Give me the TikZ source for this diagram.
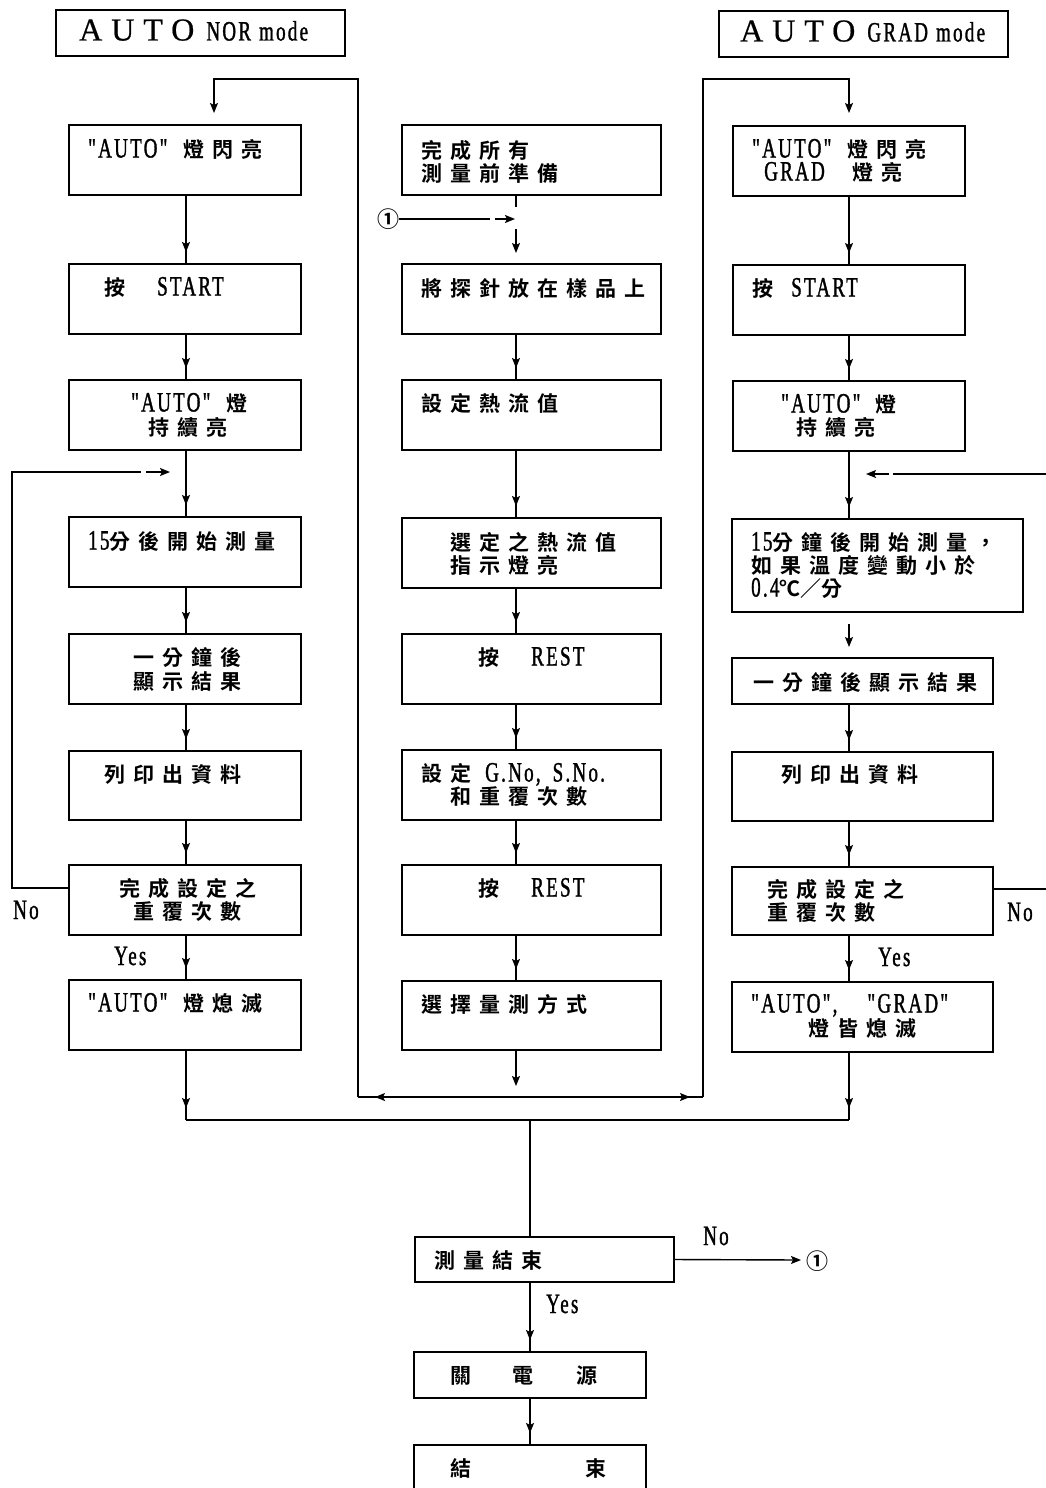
\documentclass[tikz,border=0pt]{standalone}
\usepackage{fontspec}
\usetikzlibrary{arrows.meta,decorations.markings}
\newfontfamily\cjkf{Noto Sans CJK TC}[UprightFont=* Bold, LetterSpace=38]
\newfontfamily\cjkn{Noto Sans CJK TC}[UprightFont=* Bold]
\newfontfamily\latf{Liberation Serif}[Ligatures=TeXOff, FakeStretch=0.68, LetterSpace=8, FakeBold=1.2]
\newfontfamily\titf{Liberation Serif}[Ligatures=TeXOff, LetterSpace=28, FakeBold=0.6]
\newcommand\La[1]{{\fontsize{28}{30}\selectfont\latf #1}}
\newcommand\bx[5]{\node[box, minimum width=#4pt, minimum height=#5pt] (#1) at (#2,#3) {};}
\newcommand\tx[4]{\node[txt] (#1) at (#2,#3) {#4};}
\begin{document}
\begin{tikzpicture}[x=1pt,y=-1pt,
  ln/.style={line width=1.4pt},
  arr/.style={line width=1.4pt,-{Stealth[length=10pt,width=8pt,inset=2pt]}},
  flow/.style={line width=1.4pt, postaction={decorate},
    decoration={markings, mark=at position -12pt with {\arrow{Stealth[length=10pt,width=8pt,inset=2pt]}}}},
  box/.style={draw, line width=1.4pt, anchor=north west, inner sep=0pt, outer sep=0pt},
  txt/.style={anchor=west, inner sep=0pt, text height=15pt, text depth=0pt, font=\fontsize{21}{23}\selectfont\cjkf},
  sym/.style={anchor=west, inner sep=0pt, font=\fontsize{22}{24}\selectfont\cjkn},
  lab/.style={anchor=west, inner sep=0pt, text height=16pt, text depth=0pt, font=\fontsize{28}{30}\selectfont\latf},
]
\useasboundingbox (0,0) rectangle (1045,1488);
\fill[white] (0,0) rectangle (1045,1488);

% titles
\bx{T1}{56}{10}{289}{46}
\bx{T2}{719}{11}{289}{46}
\tx{tT1}{79}{33}{{\fontsize{32}{34}\selectfont\titf AUTO}\hspace{12pt}\La{NOR\hspace{8pt}mode}}
\tx{tT2}{740}{34}{{\fontsize{32}{34}\selectfont\titf AUTO}\hspace{12pt}\La{GRAD\hspace{8pt}mode}}

% left column
\bx{L1}{69}{125}{232}{70}
\bx{L2}{69}{264}{232}{70}
\bx{L3}{69}{380}{232}{70}
\bx{L4}{69}{517}{232}{70}
\bx{L5}{69}{634}{232}{70}
\bx{L6}{69}{751}{232}{69}
\bx{L7}{69}{865}{232}{70}
\bx{L8}{69}{980}{232}{70}
% middle column
\bx{M1}{402}{125}{259}{70}
\bx{M2}{402}{264}{259}{70}
\bx{M3}{402}{380}{259}{70}
\bx{M4}{402}{518}{259}{70}
\bx{M5}{402}{634}{259}{70}
\bx{M6}{402}{750}{259}{70}
\bx{M7}{402}{865}{259}{70}
\bx{M8}{402}{981}{259}{69}
% right column
\bx{R1}{733}{126}{232}{70}
\bx{R2}{733}{265}{232}{70}
\bx{R3}{733}{381}{232}{70}
\bx{R4}{732}{519}{291}{93}
\bx{R5}{732}{658}{261}{46}
\bx{R6}{732}{752}{261}{69}
\bx{R7}{732}{867}{261}{68}
\bx{R8}{732}{982}{261}{70}
% bottom
\bx{B1}{415}{1237}{259}{45}
\bx{B2}{414}{1352}{232}{46}
\bx{B3}{414}{1445}{232}{80}

% texts left
\tx{tL1}{88}{150}{\La{"AUTO"}\hspace{16pt}燈閃亮}
\tx{tL2}{104}{288}{按\hspace{32pt}\La{START}}
\tx{tL3a}{131}{404}{\La{"AUTO"}\hspace{16pt}燈}
\tx{tL3b}{148}{428}{持續亮}
\tx{tL4}{88}{542}{\La{15}分後開始測量}
\tx{tL5a}{133}{658}{一分鐘後}
\tx{tL5b}{133}{682}{顯示結果}
\tx{tL6}{104}{775}{列印出資料}
\tx{tL7a}{119}{889}{完成設定之}
\tx{tL7b}{133}{912}{重覆次數}
\tx{tL8}{88}{1004}{\La{"AUTO"}\hspace{16pt}燈熄滅}
% texts middle
\tx{tM1a}{421}{151}{完成所有}
\tx{tM1b}{421}{174}{測量前準備}
\tx{tM2}{421}{289}{將探針放在樣品上}
\tx{tM3}{421}{404}{設定熱流值}
\tx{tM4a}{450}{543}{選定之熱流值}
\tx{tM4b}{450}{566}{指示燈亮}
\tx{tM5}{478}{658}{按\hspace{32pt}\La{REST}}
\tx{tM6a}{421}{774}{設定\hspace{14pt}\La{G.No,\hspace{12pt}S.No.}}
\tx{tM6b}{450}{797}{和重覆次數}
\tx{tM7}{478}{889}{按\hspace{32pt}\La{REST}}
\tx{tM8}{421}{1005}{選擇量測方式}
% texts right
\tx{tR1a}{752}{150}{\La{"AUTO"}\hspace{16pt}燈閃亮}
\tx{tR1b}{764}{173}{\La{GRAD}\hspace{28pt}燈亮}
\tx{tR2}{752}{289}{按\hspace{18pt}\La{START}}
\tx{tR3a}{781}{405}{\La{"AUTO"}\hspace{15pt}燈}
\tx{tR3b}{796}{428}{持續亮}
\tx{tR4a}{751}{543}{\La{15}分鐘後開始測量，}
\tx{tR4b}{751}{566}{如果溫度變動小於}
\tx{tR4c}{751}{589}{\La{0.4}{\cjkn ℃／}分}
\tx{tR5}{753}{683}{一分鐘後顯示結果}
\tx{tR6}{781}{775}{列印出資料}
\tx{tR7a}{767}{890}{完成設定之}
\tx{tR7b}{767}{913}{重覆次數}
\tx{tR8a}{751}{1005}{\La{"AUTO",\hspace{30pt}"GRAD"}}
\tx{tR8b}{808}{1029}{燈皆熄滅}
% texts bottom
\tx{tB1}{434}{1261}{測量結束}
\tx{tB2}{450}{1376}{關\hspace{41pt}電\hspace{43pt}源}
\tx{tB3}{450}{1469}{結\hspace{114pt}束}

% labels
\node[lab] (noL) at (13,911) {No};
\node[lab] (noR) at (1007,913) {No};
\node[lab] (yesL) at (114,957) {Yes};
\node[lab] (yesR) at (878,958) {Yes};
\node[lab] (noB) at (703,1237) {No};
\node[lab] (yesB) at (546,1305) {Yes};

% column axes
\coordinate (cL) at (186,0);
\coordinate (cM) at (516,0);
\coordinate (cR) at (849,0);
\coordinate (cB) at (530,0);

% straight flows
\foreach \a/\b in {L1/L2,L2/L3,L3/L4,L4/L5,L5/L6,L6/L7,L7/L8}
  \draw[flow] (cL |- \a.south) -- (cL |- \b.north);
\foreach \a/\b in {M2/M3,M3/M4,M4/M5,M5/M6,M6/M7,M7/M8}
  \draw[flow] (cM |- \a.south) -- (cM |- \b.north);
\foreach \a/\b in {R1/R2,R2/R3,R3/R4,R5/R6,R6/R7,R7/R8}
  \draw[flow] (cR |- \a.south) -- (cR |- \b.north);

% floating arrow R4 -> R5
\coordinate (r45a) at (849,624);
\coordinate (r45b) at (849,647);
\draw[arr] (r45a) -- (r45b);

% middle top with entry 1
\coordinate (m12a) at (516,207);
\coordinate (m12b) at (516,229);
\coordinate (m12c) at (516,253);
\draw[ln] (cM |- M1.south) -- (m12a);
\draw[arr] (m12b) -- (m12c);
\node[sym] (one) at (377,219) {①};
\coordinate (o1a) at (490,219);
\coordinate (o1b) at (495,219);
\coordinate (o1c) at (515,219);
\draw[ln] (one.east) -- (o1a);
\draw[arr] (o1b) -- (o1c);

% left No loop
\coordinate (nlc) at (12,472);
\coordinate (nl2) at (141,472);
\coordinate (nl3) at (146,472);
\coordinate (nl4) at (170,472);
\draw[ln] ([yshift=12pt]L7.west) -| (nlc) -- (nl2);
\draw[arr] (nl3) -- (nl4);

% right No loop (runs off the page)
\coordinate (nr1) at (1050,889);
\coordinate (nr2) at (1050,474);
\coordinate (nr3) at (893,474);
\coordinate (nr4) at (889,474);
\coordinate (nr5) at (866,474);
\draw[ln] ([yshift=12pt]R7.east) -- (nr1);
\draw[ln] (nr2) -- (nr3);
\draw[arr] (nr4) -- (nr5);

% mode loops back to the top
\coordinate (hl) at (358,1097);
\coordinate (hr) at (703,1097);
\coordinate (ltc) at (214,79);
\coordinate (lt) at (214,113);
\coordinate (rtc) at (849,79);
\coordinate (rt) at (849,113);
\draw[arr] (hl) |- (ltc) -- (lt);
\draw[arr] (hr) |- (rtc) -- (rt);
\draw[ln] (hl) -- (hr);
\coordinate (ha1) at (400,1097);
\coordinate (ha2) at (375,1097);
\coordinate (ha3) at (664,1097);
\coordinate (ha4) at (690,1097);
\draw[arr] (ha1) -- (ha2);
\draw[arr] (ha3) -- (ha4);
\coordinate (m8e) at (516,1086);
\draw[arr] (cM |- M8.south) -- (m8e);

% merge
\coordinate (mgL) at (186,1120);
\coordinate (mgR) at (849,1120);
\coordinate (mg) at (530,1120);
\draw[flow] (cL |- L8.south) -- (mgL);
\draw[flow] (cR |- R8.south) -- (mgR);
\draw[ln] (mgL) -- (mgR);
\draw[ln] (mg) -- (cB |- B1.north);
\draw[flow] (cB |- B1.south) -- (cB |- B2.north);
\draw[flow] (cB |- B2.south) -- (cB |- B3.north);
\coordinate (b1e) at (801,1260);
\draw[arr] (B1.east) -- (b1e);
\node[sym] (one2) at (806,1261) {①};
\end{tikzpicture}
\end{document}
